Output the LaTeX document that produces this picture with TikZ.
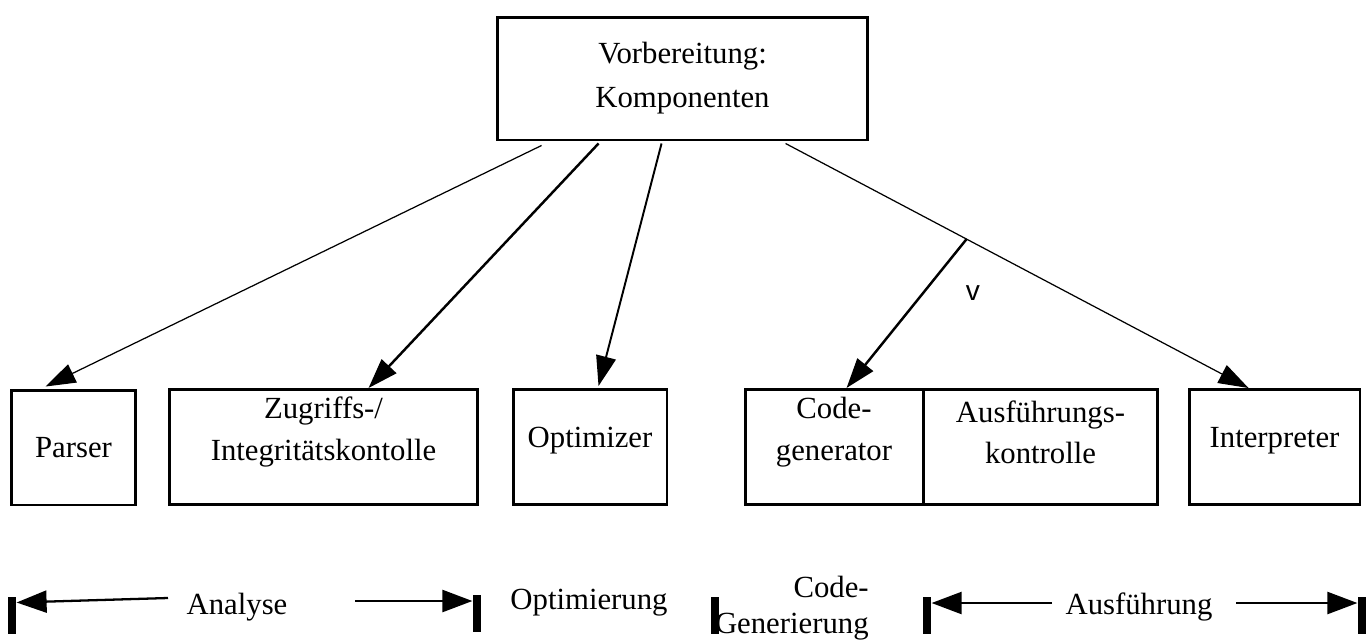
\documentclass[tikz,border=0pt]{standalone}
\usepackage{fontspec}
\setmainfont{Liberation Serif}
\newfontfamily\vfont{Liberation Sans}
\usetikzlibrary{arrows.meta,calc}

\begin{document}
\begin{tikzpicture}[x=0.02cm, y=-0.02cm,
    box/.style={rectangle, draw, line width=1.7pt, inner sep=0pt, minimum height=2.3cm},
    lbl/.style={align=center, inner sep=0pt, font=\fontsize{17.5}{23.5}\selectfont},
    bar/.style={rectangle, fill, inner sep=0pt, minimum width=0.17cm, minimum height=0.74cm},
    head/.style={-{Triangle[length=0.6cm, width=0.4cm]}},
    dimarrow/.style={-{Triangle[length=0.6cm, width=0.44cm]}, line width=1.3pt}
]
    \useasboundingbox (0,0) rectangle (1372,640);

    % Top component
    \node[box, minimum width=7.42cm, minimum height=2.46cm] (prep) at (682.5,78.5) {};
    \node[lbl, font=\fontsize{17.5}{25}\selectfont] (prep-t) at (prep) {Vorbereitung:\\Komponenten};

    % Components
    \node[box, minimum width=2.5cm] (parser) at (73.5,447.5) {};
    \node[box, minimum width=6.18cm] (access) at (323.5,447) {};
    \node[box, minimum width=3.08cm] (optimizer) at (590,447) {};
    \node[box, minimum width=3.56cm] (codegen) at (834,447) {};
    \node[box, minimum width=4.7cm] (execctl) at (1040.5,447) {};
    \node[box, minimum width=3.42cm] (interp) at (1274.5,447) {};

    \node[lbl] (parser-t) at (parser) {Parser};
    \node[lbl] (access-t) at ($(access)+(0,-15)$) {Zugriffs-/\\Integritätskontolle};
    \node[lbl] (optimizer-t) at ($(optimizer)+(0,-6)$) {Optimizer};
    \node[lbl] (codegen-t) at ($(codegen)+(0,-15)$) {Code-\\generator};
    \node[lbl] (execctl-t) at ($(execctl)+(0,-15)$) {Ausführungs-\\kontrolle};
    \node[lbl] (interp-t) at ($(interp)+(0,-6)$) {Interpreter};

    % Arrows from the top
    \draw[head, line width=0.7pt] ($(prep.south west)+(46,4)$) -- ($(parser.north west)+(36,-2)$);
    \draw[head, line width=1.4pt] ($(prep.south west)+(103,2)$) -- ($(access.north west)+(201,0)$);
    \draw[head, line width=1.1pt] ($(prep.south west)+(166,2)$) -- ($(optimizer.north west)+(87,-2)$);
    \draw[head, line width=0.7pt] ($(prep.south west)+(290,2)$) -- coordinate[pos=0.391] (fork) ($(interp.north west)+(61,0)$);
    \draw[head, line width=1.4pt] (fork) -- ($(codegen.north west)+(103,0)$);
    \node[font=\vfont\fontsize{16}{16}\selectfont] (vmark) at (973,293) {v};

    % Phases
    \node[bar] (b1) at (12,615) {};
    \node[bar] (b2) at (477,613) {};
    \node[bar] (b3) at (715,615) {};
    \node[bar] (b4) at (927,615) {};
    \node[bar] (b5) at (1362,615) {};

    \node[lbl] (analyse) at (237,607) {Analyse};
    \node[lbl] (optim) at (589,603) {Optimierung};
    \node[lbl, align=right, anchor=east, font=\fontsize{17.5}{20.5}\selectfont] (codegenphase) at (869,608) {Code-\\Generierung};
    \node[lbl] (ausf) at (1139,607) {Ausführung};

    \coordinate (an-r) at (168,598);
    \coordinate (an-l) at (355,601);
    \coordinate (au-r) at (1052,603);
    \coordinate (au-l) at (1236,603);
    \draw[dimarrow] (an-r) -- ($(b1.east)+(0,-12.5)$);
    \draw[dimarrow] (an-l) -- ($(b2.west)+(0,-12)$);
    \draw[dimarrow] (au-r) -- ($(b4.east)+(0,-12)$);
    \draw[dimarrow] (au-l) -- ($(b5.west)+(0,-12)$);
\end{tikzpicture}
\end{document}
